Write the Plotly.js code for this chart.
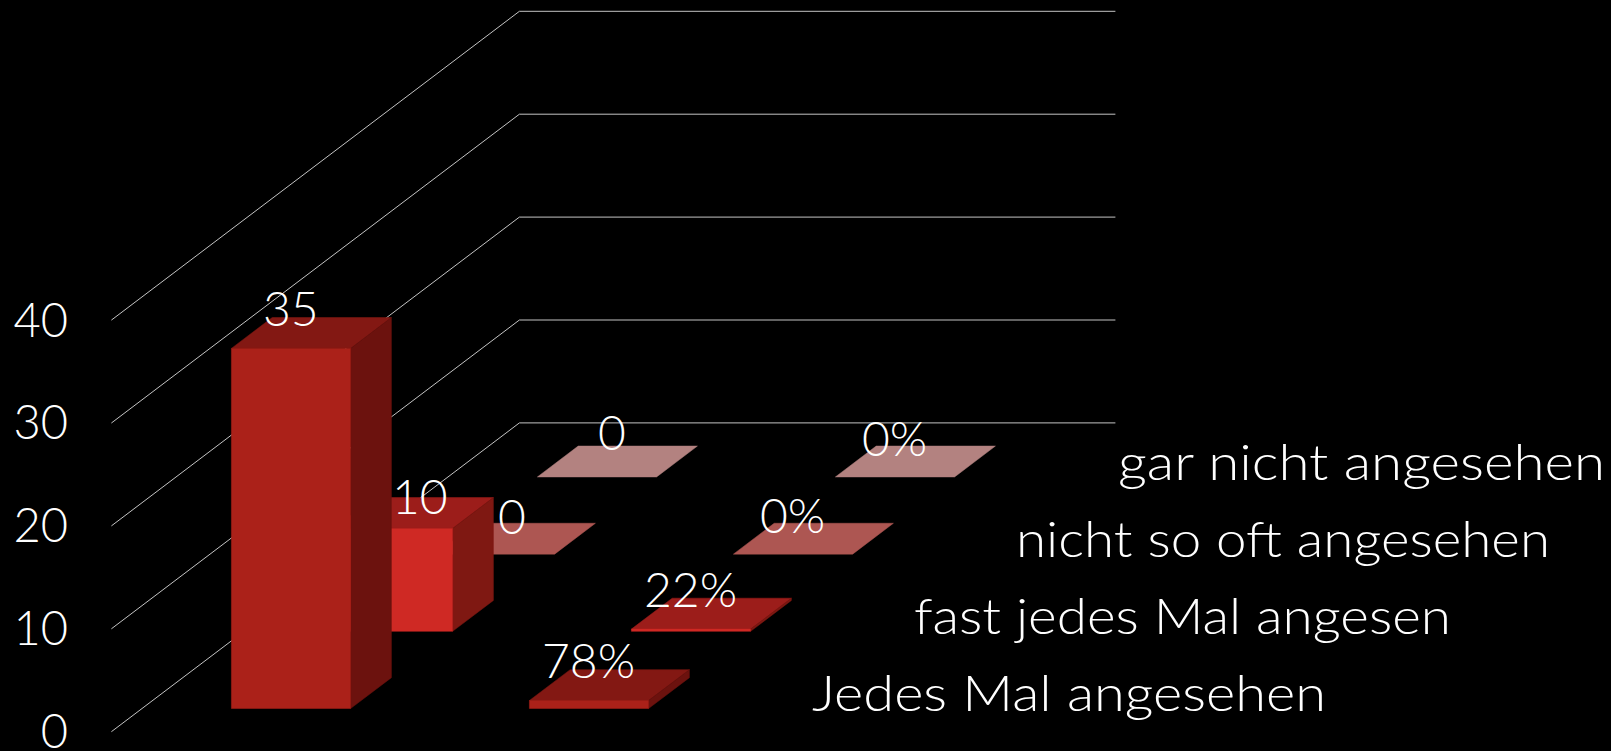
<!DOCTYPE html>
<html>
<head>
<meta charset="utf-8">
<script src="https://cdn.plot.ly/plotly-3.0.1.min.js"></script>
<style>html,body{margin:0;padding:0;background:#000;overflow:hidden}#chart{width:1611px;height:751px}</style>
</head>
<body>
<div id="chart"></div>
<script>
// --- data ---
const seriesNames = ["Jedes Mal angesehen", "fast jedes Mal angesen", "nicht so oft angesehen", "gar nicht angesehen"];
const countValues = [35, 10, 0, 0];
const shareValues = [0.78, 0.22, 0, 0];
const yTicks = [0, 10, 20, 30, 40];

// --- styles ---
const frontColors = ["#ab2119", "#cf2924", "#ad5652", "#b38280"];
const topColors   = ["#831813", "#9c1d1a", "#ad5652", "#b38280"];
const sideColors  = ["#6c120e", "#7f1812", "#ad5652", "#b38280"];
const FONT = "Lato, sans-serif";
const WEIGHT = 300;
const gridColor = "#c4c4c4";
const seriesLabelWidths = [514, 537, 534, 487];

// --- oblique projection of the chart's 3D space onto the 2D axes ---
const W = 1611, H = 751, L = 69;
const catPx = 298, unitPx = 10.29, depthX = 102, depthY = 77.2, originX = 111.4, originY = 731.7;
const P = (u, w, v) => [u + w * depthX / catPx, v + w * depthY / unitPx];
const poly = (pts, color) => {
  const p = pts.map(a => P(a[0], a[1], a[2]));
  p.push(p[0]);
  return {x: p.map(a => a[0]), y: p.map(a => a[1]), mode: "lines", fill: "toself", fillcolor: color,
          line: {color: color, width: 0.5}, hoverinfo: "skip", showlegend: false};
};

const traces = [];
// gridlines
yTicks.forEach(v => {
  const p = [P(0, 0, v), P(0, 4, v), P(2, 4, v)];
  traces.push({x: p.map(a => a[0]), y: p.map(a => a[1]), mode: "lines",
               line: {color: gridColor, width: 1}, hoverinfo: "skip", showlegend: false});
});
// bars, back row first
const columns = [countValues, shareValues];
const gap = 0.3;
for (let s = seriesNames.length - 1; s >= 0; s--) {
  columns.forEach((vals, c) => {
    const v = vals[s];
    const u0 = c + gap, u1 = c + 1 - gap, w0 = s + gap, w1 = s + 1 - gap;
    traces.push(poly([[u0, w0, v], [u1, w0, v], [u1, w1, v], [u0, w1, v]], topColors[s]));
    if (v > 0) {
      traces.push(poly([[u1, w0, 0], [u1, w1, 0], [u1, w1, v], [u1, w0, v]], sideColors[s]));
      traces.push(poly([[u0, w0, 0], [u1, w0, 0], [u1, w0, v], [u0, w0, v]], frontColors[s]));
    }
  });
}

const annotations = [];
// data labels
const labelNudge = [
  [[-20, 25], [-21, 26]],
  [[7, 18], [-21, 25]],
  [[-3, 23], [-21, 24]],
  [[-5, 30], [-21, 24]]
];
columns.forEach((vals, c) => vals.forEach((v, s) => {
  const p = P(c + 0.5, s + 0.5, v);
  annotations.push({x: p[0], y: p[1], xref: "x", yref: "y", showarrow: false,
    text: c === 0 ? String(v) : Math.round(v * 100) + "%",
    xshift: labelNudge[s][c][0], yshift: labelNudge[s][c][1],
    font: {family: FONT, size: 48, color: "#fff", weight: WEIGHT}});
}));
// series names on the depth axis
seriesNames.forEach((name, s) => {
  const p = P(2.173, s + 0.5, 0);
  annotations.push({x: p[0], y: p[1], xref: "x", yref: "y", showarrow: false, xanchor: "left", yanchor: "middle",
    text: name, yshift: 1, font: {family: FONT, size: 49, color: "#fff", weight: WEIGHT}});
});

const layout = {
  width: W, height: H,
  margin: {l: L, r: 0, t: 0, b: 0, pad: 0},
  paper_bgcolor: "#000", plot_bgcolor: "#000",
  showlegend: false, hovermode: false,
  xaxis: {visible: false, range: [(L - originX) / catPx, (W - originX) / catPx], fixedrange: true},
  yaxis: {range: [(originY - H) / unitPx, originY / unitPx], tickmode: "array", tickvals: yTicks,
          ticktext: yTicks.map(String), ticks: "", showgrid: false, zeroline: false, showline: false, fixedrange: true,
          ticklabeloverflow: "allow",
          tickfont: {family: FONT, size: 47, color: "#fff", weight: WEIGHT}},
  annotations: annotations
};
Plotly.newPlot("chart", traces, layout, {displayModeBar: false, staticPlot: true}).then(() => {
  // The series names use a wide geometric face in the reference: widen the installed face to match.
  document.querySelectorAll(".annotation-text").forEach(el => {
    const i = seriesNames.indexOf(el.textContent);
    if (i < 0) return;
    const natural = el.getComputedTextLength();
    const target = seriesLabelWidths[i];
    el.setAttribute("textLength", target);
    el.setAttribute("lengthAdjust", "spacingAndGlyphs");
    el.setAttribute("x", parseFloat(el.getAttribute("x") || 0) + (target - natural) / 2);
  });
});
</script>
</body>
</html>
